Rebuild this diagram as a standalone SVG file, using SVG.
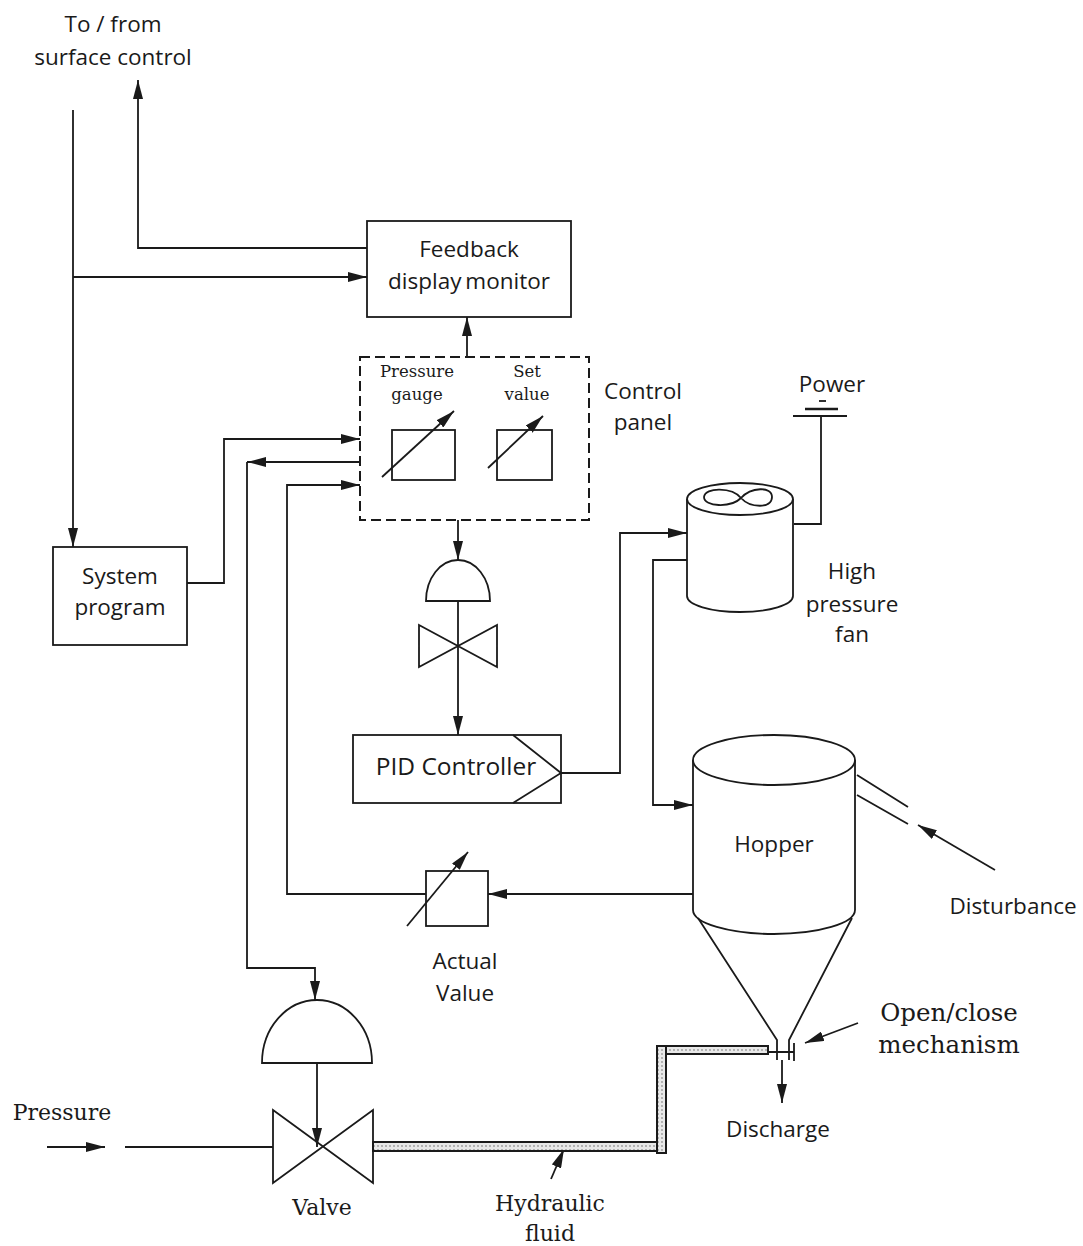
<svg xmlns="http://www.w3.org/2000/svg" width="1083" height="1246" viewBox="0 0 1083 1246">
<style>
.ln{fill:none;stroke:#1a1a1a;stroke-width:1.8}
.sh{fill:#fff;stroke:#1a1a1a;stroke-width:1.8}
.sans{font-family:"Open Sans","Liberation Sans",sans-serif;font-size:22.5px;fill:#1a1a1a;text-anchor:middle;dominant-baseline:central}
.serif{font-family:"DejaVu Serif","Liberation Serif",serif;font-size:22px;fill:#1a1a1a;text-anchor:middle;dominant-baseline:central}
.pipe{fill:url(#dots);stroke:#1a1a1a;stroke-width:2}
</style>
<defs>
<marker id="ah" viewBox="0 0 19 10" refX="19" refY="5" markerWidth="19" markerHeight="10" markerUnits="userSpaceOnUse" orient="auto"><path d="M0,0 L19,5 L0,10 Z" fill="#1a1a1a"/></marker>
<pattern id="dots" width="4" height="4" patternUnits="userSpaceOnUse"><rect width="4" height="4" fill="#e8e8e8"/><circle cx="2" cy="2" r="0.9" fill="#999"/></pattern>
</defs>
<rect width="1083" height="1246" fill="#fff"/>

<g id="connectors">
<path class="ln" d="M73,110 V547" marker-end="url(#ah)"/>
<path class="ln" d="M367,248 H138 V80" marker-end="url(#ah)"/>
<path class="ln" d="M73,277 H367" marker-end="url(#ah)"/>
<path class="ln" d="M467,357 V317" marker-end="url(#ah)"/>
<path class="ln" d="M187,583 H224 V439 H360" marker-end="url(#ah)"/>
<path class="ln" d="M360,462 H247" marker-end="url(#ah)"/>
<path class="ln" d="M247,462 V968 H315 V1000" marker-end="url(#ah)"/>
<path class="ln" d="M426,894 H287 V485 H360" marker-end="url(#ah)"/>
<path class="ln" d="M693,894 H488" marker-end="url(#ah)"/>
<path class="ln" d="M458,520 V560" marker-end="url(#ah)"/>
<path class="ln" d="M458,601 V735" marker-end="url(#ah)"/>
<path class="ln" d="M561,773 H620 V533 H687" marker-end="url(#ah)"/>
<path class="ln" d="M687,560 H653 V805 H693" marker-end="url(#ah)"/>
<path class="ln" d="M794,524 H821 V416"/>
<path class="ln" d="M995,870 L918,825" marker-end="url(#ah)"/>
<path class="ln" d="M858,1023 L805,1043" marker-end="url(#ah)"/>
<path class="ln" d="M782,1060 V1103" marker-end="url(#ah)"/>
<path class="ln" d="M47,1147 H105" marker-end="url(#ah)"/>
<path class="ln" d="M125,1147 H273"/>
<path class="ln" d="M317,1063 V1147" marker-end="url(#ah)"/>
<path class="ln" d="M551,1179 L564,1149" marker-end="url(#ah)"/>
</g>

<g id="surface-label">
<text class="sans" x="113" y="23">To / from</text>
<text class="sans" x="113" y="56">surface control</text>
</g>

<g id="feedback-monitor">
<rect class="sh" x="367" y="221" width="204" height="96"/>
<text class="sans" x="469" y="248">Feedback</text>
<text class="sans" x="469" y="280" style="word-spacing:-2px">display monitor</text>
</g>

<g id="control-panel">
<rect x="360" y="357" width="229" height="163" fill="none" stroke="#1a1a1a" stroke-width="2" stroke-dasharray="10 5"/>
<text class="serif" style="font-size:16.5px" x="417" y="371">Pressure</text>
<text class="serif" style="font-size:16.5px" x="417" y="394">gauge</text>
<text class="serif" style="font-size:16.5px" x="527" y="371">Set</text>
<text class="serif" style="font-size:16.5px" x="527" y="394">value</text>
<rect class="sh" x="392" y="430" width="63" height="50"/>
<path class="ln" d="M382,477 L454,411" marker-end="url(#ah)"/>
<rect class="sh" x="497" y="430" width="55" height="50"/>
<path class="ln" d="M488,468 L543,416" marker-end="url(#ah)"/>
<text class="sans" x="643" y="390">Control</text>
<text class="sans" x="643" y="421">panel</text>
</g>

<g id="system-program">
<rect class="sh" x="53" y="547" width="134" height="98"/>
<text class="sans" x="120" y="575">System</text>
<text class="sans" x="120" y="606">program</text>
</g>

<g id="pid-actuator-valve">
<path class="sh" d="M426,601 A32,41 0 0 1 490,601 Z"/>
<path class="ln" d="M419,625 L497,667 L497,625 L419,667 Z"/>
</g>

<g id="pid-controller">
<rect class="sh" x="353" y="735" width="208" height="68"/>
<path class="ln" d="M513,735 L561,773 L513,803"/>
<text class="sans" style="font-size:24.5px" x="456" y="765">PID Controller</text>
</g>

<g id="power">
<text class="sans" x="832" y="383">Power</text>
<path class="ln" d="M819,401 H826"/>
<path class="ln" style="stroke-width:2.4" d="M805,409 H838"/>
<path class="ln" d="M793,416 H847"/>
</g>

<g id="fan">
<path class="sh" d="M687,499 V596 A53,16 0 0 0 793,596 V499"/>
<ellipse class="sh" cx="740" cy="499" rx="53" ry="16"/>
<path class="ln" d="M741,498 C732,487 705,487 704,497 C704,507 731,508 741,498 C751,487 772,486 772,497 C772,509 750,508 741,498 Z"/>
<text class="sans" x="852" y="570">High</text>
<text class="sans" x="852" y="603">pressure</text>
<text class="sans" x="852" y="633">fan</text>
</g>

<g id="hopper">
<path class="sh" d="M693,760 V910 A81,24 0 0 0 855,910 V760"/>
<ellipse class="sh" cx="774" cy="760" rx="81" ry="25"/>
<path class="ln" d="M698,918 L777,1040 V1060 M852,918 L789,1040 V1060 M768,1052 H794 M794,1043 V1061"/>
<path class="ln" d="M857,775 L908,807 M857,795 L908,824"/>
<text class="sans" x="774" y="843">Hopper</text>
<text class="sans" x="1013" y="905">Disturbance</text>
</g>

<g id="actual-value">
<rect class="sh" x="426" y="871" width="62" height="55"/>
<path class="ln" d="M407,926 L468,852" marker-end="url(#ah)"/>
<text class="sans" x="465" y="960">Actual</text>
<text class="sans" x="465" y="992">Value</text>
</g>

<g id="discharge">
<text class="serif" style="font-size:24.5px" x="949" y="1012">Open/close</text>
<text class="serif" style="font-size:24.5px" x="949" y="1044">mechanism</text>
<text class="sans" x="778" y="1128">Discharge</text>
</g>

<g id="hydraulic-pipe">
<rect class="pipe" x="373" y="1142" width="284" height="9"/>
<rect class="pipe" x="666" y="1046" width="102" height="8"/>
<rect class="pipe" x="657" y="1046" width="9" height="107"/>
<text class="serif" x="550" y="1203">Hydraulic</text>
<text class="serif" x="550" y="1233">fluid</text>
</g>

<g id="main-valve">
<path class="sh" d="M262,1063 A55,63 0 0 1 372,1063 Z"/>
<path class="ln" d="M273,1110 L373,1183 L373,1110 L273,1183 Z"/>
<text class="serif" x="62" y="1112">Pressure</text>
<text class="serif" x="322" y="1207">Valve</text>
</g>
</svg>
